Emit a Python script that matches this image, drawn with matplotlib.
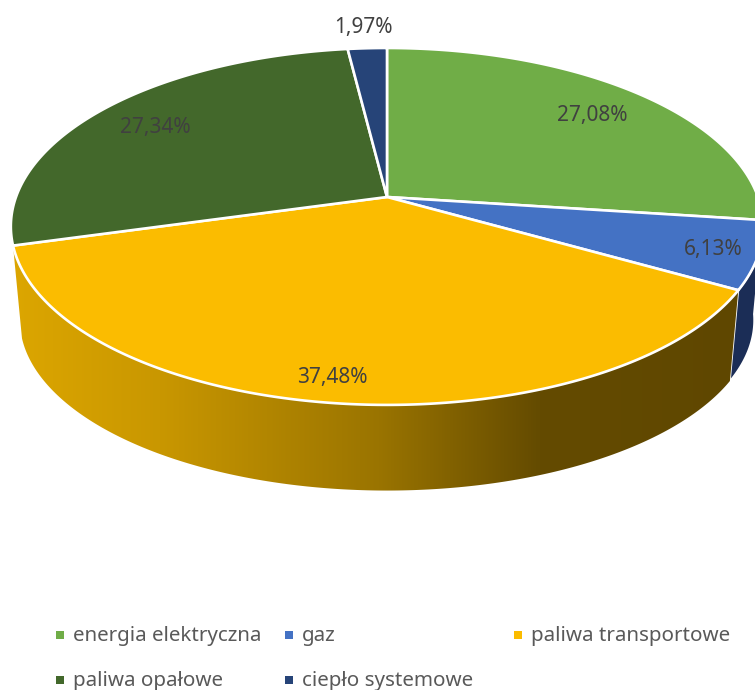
import numpy as np
import matplotlib
matplotlib.use('Agg')
import matplotlib.pyplot as plt
from matplotlib.colors import LinearSegmentedColormap
from matplotlib.patches import Polygon

plt.rcParams['font.family'] = ['Noto Sans', 'DejaVu Sans']

# --------- data ---------
names = ['energia elektryczna', 'gaz', 'paliwa transportowe', 'paliwa opałowe', 'ciepło systemowe']
values = [27.08, 6.13, 37.48, 27.34, 1.97]
labels = ['27,08%', '6,13%', '37,48%', '27,34%', '1,97%']
colors = ['#70AD47', '#4472C4', '#FBBC00', '#43682B', '#264478']
wall_colors = ['#4B7530', '#1B2D56', None, '#2D4620', '#1B2D56']

# --------- geometry of the tilted pie (pixels) ---------
cx, cy = 387, 197
bx, ay, k = 371, 173.6, 0.165      # perspective of the disc
sx, sy, drop = 0.976, 0.955, 95    # lower rim of the wall

label_xy = [(592, 115), (713, 250), (332, 377), (155, 128), (363, 27)]
legend_xy = [(60, 635), (289, 635), (518, 635), (60, 680), (289, 680)]


def project(deg, lower=False):
    a = np.radians(deg)
    u, w = np.sin(a), -np.cos(a)
    x = bx * u / (1 - k * w)
    y = ay * w / (1 - k * w)
    if lower:
        return cx + sx * x, cy + sy * y + drop
    return cx + x, cy + y


def wall_poly(a0, a1):
    t = np.linspace(a0, a1, 200)
    xt, yt = project(t)
    xb, yb = project(t[::-1], lower=True)
    return np.column_stack([np.r_[xt, xb], np.r_[yt, yb]])


fig = plt.figure(figsize=(7.55, 6.9), dpi=100)
ax = fig.add_axes([0, 0, 1, 1])
ax.set_xlim(0, 755)
ax.set_ylim(690, 0)
ax.axis('off')

edges = np.r_[0, np.cumsum(values)] / sum(values) * 360

# front wall: only the slices facing the viewer are seen
shade = LinearSegmentedColormap.from_list(
    'shade', [(0, '#DCA600'), (0.2, '#C99700'), (0.5, '#9A7400'), (0.72, '#644B00'), (1, '#5F4700')])
for i in [1, 2]:
    poly = wall_poly(edges[i], edges[i + 1])
    if wall_colors[i] is None:
        p = Polygon(poly, closed=True, fc='none', ec='none')
        ax.add_patch(p)
        im = ax.imshow(np.linspace(0, 1, 256)[None, :], cmap=shade, extent=(13, 745, 690, 0),
                       aspect='auto', zorder=1)
        im.set_clip_path(p)
        ax.set_xlim(0, 755)
        ax.set_ylim(690, 0)
    else:
        ax.add_patch(Polygon(poly, closed=True, fc=wall_colors[i], ec='white', lw=1.2, zorder=1))

# top disc
for i in range(len(values)):
    t = np.linspace(edges[i], edges[i + 1], 200)
    x, y = project(t)
    ax.add_patch(Polygon(np.column_stack([np.r_[cx, x], np.r_[cy, y]]), closed=True,
                         fc=colors[i], ec='white', lw=1.9, joinstyle='round', zorder=2))

for (x, y), s in zip(label_xy, labels):
    ax.text(x, y, s, ha='center', va='center', fontsize=15, color='#404040', zorder=3)

# legend placed by hand, the columns are not evenly spaced
for (x, y), s, c in zip(legend_xy, names, colors):
    ax.scatter([x], [y], marker='s', s=33, color=c, linewidths=0, zorder=3)
    ax.text(x + 13, y + 1, s, ha='left', va='center', fontsize=14.8, color='#595959', zorder=3)

fig.savefig('out.png', dpi=100)
